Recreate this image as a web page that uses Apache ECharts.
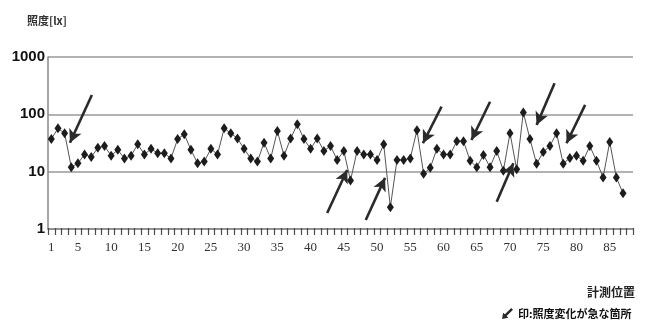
<!DOCTYPE html>
<html>
<head>
<meta charset="utf-8">
<script src="https://cdn.jsdelivr.net/npm/echarts@6/dist/echarts.min.js"></script>
<style>
  html, body { margin: 0; padding: 0; background: #fff; }
  #chart { width: 648px; height: 325px; }
</style>
</head>
<body>
<div id="chart"></div>
<script>
// Measuring positions along the route (one category per position)
const positionCount = 88;
const positions = Array.from({ length: positionCount }, (_, i) => i + 1);

// Illuminance at each measuring position [lx]
const illuminance = [
  37, 57, 47, 12, 14, 20, 18, 26, 28, 19,
  24, 17, 19, 30, 20, 25, 21, 21, 17, 37,
  45, 24, 14, 15, 25, 20, 57, 47, 38, 25,
  17, 15, 32, 17, 51, 19, 38, 67, 37, 25,
  38, 23, 28, 16, 23, 7, 23, 20, 20, 16,
  30, 2.4, 16, 16, 17, 53, 9.2, 11.7, 25, 20,
  20, 34, 34, 15.5, 12, 19.6, 12, 23, 10.4, 47,
  11, 108, 37, 13.7, 22, 28, 47, 13.7, 17.4, 19,
  15.5, 28, 15.5, 7.9, 33, 7.9, 4.2
];

// Tick labels on the position axis
const xTickLabels = [1, 5, 10, 15, 20, 25, 30, 35, 40, 45, 50, 55, 60, 65, 70, 75, 80, 85];
// Range of the illuminance axis
const yTickLabels = [1, 10, 100, 1000];

// Arrows marking sudden illuminance changes: [fromPos, fromLx] -> [toPos, toLx]
const arrowFrom = [
  [7.1, 217], [42.5, 1.9], [48.3, 1.44], [59.7, 136], [67.0, 166],
  [68.0, 3.0], [76.7, 348], [81.3, 146], [89.3, 104]
];
const arrowTo = [
  [3.8, 32], [45.5, 10.7], [51.2, 7.8], [56.9, 31.3], [64.2, 35.7],
  [70.5, 14.0], [74.0, 65], [78.5, 31.3], [86.5, 22.3]
];

const legendText = '印:照度変化が急な箇所';

const chart = echarts.init(document.getElementById('chart'), null, { renderer: 'canvas' });

const seriesData = positions
  .map((p, i) => [p, illuminance[i]])
  .filter(d => d[1] !== undefined);

// tick marks sit on the boundaries between neighbouring positions
const tickBoundaries = Array.from({ length: positionCount + 1 }, (_, i) => [i + 0.5, yTickLabels[0]]);

chart.setOption({
  animation: false,
  backgroundColor: '#ffffff',
  title: [
    {
      text: '照度[lx]', left: 22, top: 10,
      textStyle: { fontSize: 11, fontWeight: 'bold', color: '#333', fontFamily: 'Noto Sans CJK JP' }
    },
    {
      text: '計測位置', left: 582, top: 281,
      textStyle: { fontSize: 12, fontWeight: 'bold', color: '#222', fontFamily: 'Noto Sans CJK JP' }
    }
  ],
  legend: {
    data: [legendText],
    left: 497, top: 303,
    icon: 'path://M17,0 L20,3 L9,14 L12,17 L1,19 L3,8 L6,11 Z',
    itemWidth: 11, itemHeight: 16,
    textStyle: { fontSize: 11, fontWeight: 'bold', color: '#111', fontFamily: 'Noto Sans CJK JP' }
  },
  grid: { left: 48, right: 15, top: 57, bottom: 96, containLabel: false },
  xAxis: {
    type: 'value',
    min: 0.5,
    max: positionCount + 0.5,
    axisLine: { show: true, lineStyle: { color: '#888', width: 1.5 } },
    axisTick: { show: false },
    axisLabel: {
      customValues: xTickLabels,
      margin: 12,
      fontFamily: 'Liberation Serif',
      fontSize: 13,
      color: '#333'
    },
    splitLine: { show: false }
  },
  yAxis: {
    type: 'log',
    logBase: 10,
    min: yTickLabels[0],
    max: yTickLabels[yTickLabels.length - 1],
    axisLine: { show: true, lineStyle: { color: '#888', width: 1.5 } },
    axisTick: { show: false },
    axisLabel: {
      margin: 3,
      fontFamily: 'Liberation Sans',
      fontWeight: 'bold',
      fontSize: 15,
      color: '#111',
      formatter: v => String(Math.round(v))
    },
    splitLine: { show: true, lineStyle: { color: '#999', width: 1.5 } }
  },
  series: [
    {
      // small tick marks hanging below the position axis
      type: 'custom',
      silent: true,
      clip: false,
      z: 5,
      data: tickBoundaries,
      encode: { x: 0, y: 1 },
      renderItem: (params, api) => {
        const pt = api.coord([api.value(0), api.value(1)]);
        const x = Math.round(pt[0]) + 0.5;
        return {
          type: 'line',
          shape: { x1: x, y1: pt[1] - 1, x2: x, y2: pt[1] + 6 },
          style: { stroke: '#4a4a4a', lineWidth: 1.2 }
        };
      }
    },
    {
      type: 'line',
      name: '照度',
      data: seriesData,
      clip: false,
      symbol: 'diamond',
      symbolSize: [7, 10],
      itemStyle: { color: '#1c1c1c' },
      lineStyle: { color: '#555', width: 1 },
      z: 3,
      markLine: {
        silent: true,
        symbol: ['none', 'arrow'],
        symbolSize: [10, 13],
        lineStyle: { color: '#2a2a2a', width: 2.6, type: 'solid' },
        label: { show: false },
        emphasis: { disabled: true },
        data: arrowFrom.map((a, i) => [
          { coord: a },
          { coord: arrowTo[i] }
        ])
      }
    },
    {
      type: 'line',
      name: legendText,
      data: [],
      itemStyle: { color: '#2a2a2a' },
      lineStyle: { color: '#2a2a2a' }
    }
  ]
});
</script>
</body>
</html>
